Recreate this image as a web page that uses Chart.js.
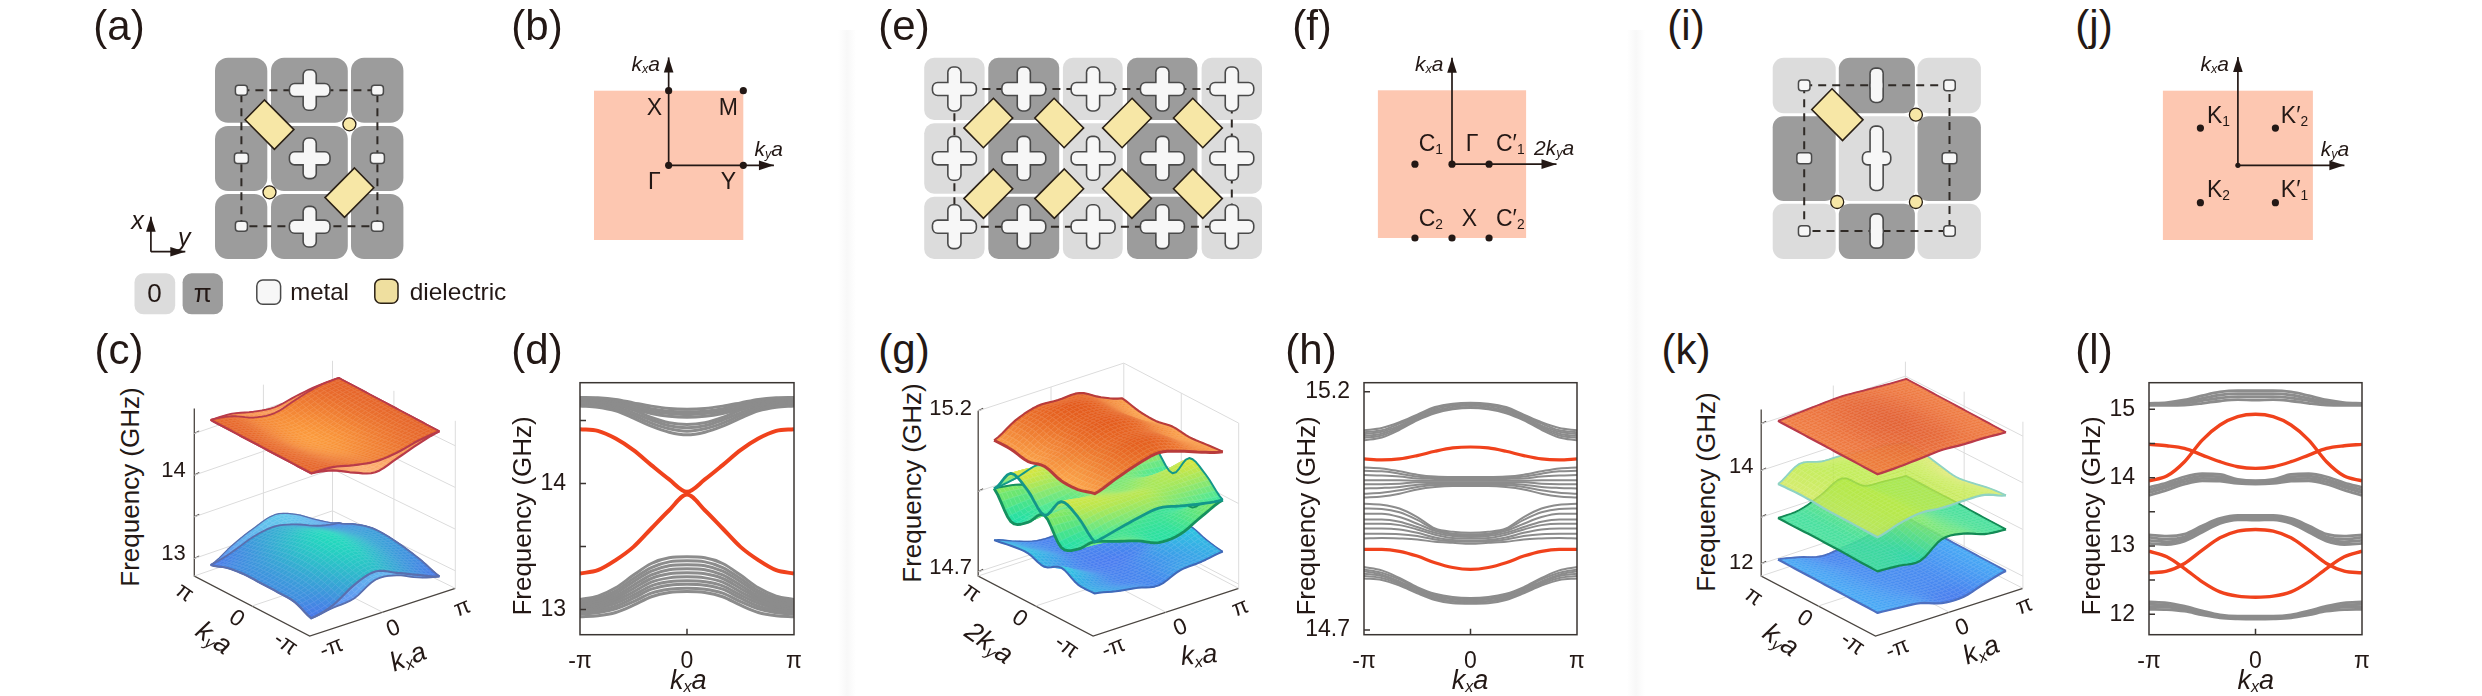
<!DOCTYPE html>
<html>
<head>
<meta charset="utf-8">
<script src="https://cdn.jsdelivr.net/npm/chart.js@4"></script>
<style>
html, body { margin: 0; background: #fff; }
#fig { position: relative; width: 2482px; height: 696px; overflow: hidden; font-family: "Liberation Sans", Arial, sans-serif; }
#fig canvas { position: absolute; }
.t { position: absolute; white-space: nowrap; color: #231815; line-height: 1; }
.t sub { font-size: .6em; vertical-align: -.22em; line-height: 0; }
.shade { position: absolute; top: 30px; bottom: 0; width: 18px; background: linear-gradient(90deg, #fff, #f8f8f8, #fff); }
</style>
</head>
<body>
<div id="fig">
<div class="shade" style="left:838px"></div>
<div class="shade" style="left:1627px"></div>
</div>
<script>
////////////
//// Data: band diagrams. Each row runs from k = pi to k = 0, the other half is its mirror image

let kSamples = [-1, -5/6, -4/6, -3/6, -2/6, -1/6, 0, 1/6, 2/6, 3/6, 4/6, 5/6, 1];
let kTickLabels = ['-π', '0', 'π'];

let dGray = [
	[14.683, 14.680, 14.667, 14.640, 14.614, 14.595, 14.590],
	[14.675, 14.669, 14.656, 14.627, 14.593, 14.574, 14.569],
	[14.667, 14.661, 14.648, 14.608, 14.574, 14.556, 14.548],
	[14.659, 14.651, 14.635, 14.590, 14.556, 14.534, 14.526],
	[14.651, 14.643, 14.622, 14.582, 14.524, 14.482, 14.468],
	[14.640, 14.632, 14.608, 14.561, 14.503, 14.458, 14.442],
	[14.630, 14.619, 14.593, 14.540, 14.479, 14.434, 14.415],
	[14.616, 14.606, 14.577, 14.519, 14.455, 14.407, 14.386],
	[13.079, 13.106, 13.172, 13.273, 13.365, 13.410, 13.418],
	[13.061, 13.087, 13.148, 13.246, 13.333, 13.378, 13.386],
	[13.048, 13.069, 13.127, 13.220, 13.304, 13.347, 13.355],
	[13.034, 13.053, 13.106, 13.193, 13.275, 13.315, 13.323],
	[13.021, 13.040, 13.087, 13.167, 13.246, 13.283, 13.291],
	[13.008, 13.024, 13.069, 13.140, 13.217, 13.251, 13.259],
	[12.995, 13.008, 13.048, 13.114, 13.188, 13.220, 13.228],
	[12.979, 12.990, 13.026, 13.090, 13.161, 13.193, 13.201],
	[12.963, 12.974, 13.005, 13.063, 13.130, 13.161, 13.169],
	[12.942, 12.950, 12.976, 13.034, 13.101, 13.135, 13.143]
];
let dRed = [
	[14.431, 14.418, 14.357, 14.265, 14.146, 14.032, 13.934],
	[13.286, 13.312, 13.392, 13.497, 13.643, 13.788, 13.913]
];
let dTicks = [13, 13.5, 14, 14.5];
let dLabels = {13: '13', 14: '14'};

let hGray = [
	[15.119, 15.124, 15.136, 15.152, 15.168, 15.175, 15.177],
	[15.115, 15.119, 15.133, 15.150, 15.166, 15.173, 15.175],
	[15.111, 15.116, 15.129, 15.147, 15.163, 15.171, 15.173],
	[15.107, 15.112, 15.126, 15.145, 15.160, 15.168, 15.171],
	[15.103, 15.108, 15.123, 15.142, 15.157, 15.165, 15.168],
	[15.098, 15.104, 15.120, 15.140, 15.155, 15.163, 15.166],
	[15.041, 15.039, 15.033, 15.026, 15.022, 15.021, 15.021],
	[15.034, 15.033, 15.028, 15.022, 15.019, 15.019, 15.019],
	[15.025, 15.024, 15.022, 15.018, 15.017, 15.016, 15.016],
	[15.014, 15.014, 15.014, 15.013, 15.013, 15.013, 15.013],
	[15.006, 15.006, 15.007, 15.010, 15.010, 15.010, 15.010],
	[14.997, 14.998, 15.000, 15.005, 15.007, 15.007, 15.007],
	[14.986, 14.988, 14.993, 15.000, 15.004, 15.005, 15.005],
	[14.978, 14.980, 14.986, 14.995, 15.000, 15.002, 15.002],
	[14.965, 14.963, 14.955, 14.937, 14.913, 14.906, 14.904],
	[14.955, 14.954, 14.947, 14.931, 14.911, 14.902, 14.901],
	[14.944, 14.944, 14.937, 14.923, 14.908, 14.900, 14.898],
	[14.932, 14.932, 14.927, 14.916, 14.904, 14.897, 14.895],
	[14.923, 14.923, 14.920, 14.911, 14.900, 14.893, 14.892],
	[14.913, 14.913, 14.911, 14.904, 14.894, 14.889, 14.888],
	[14.902, 14.902, 14.901, 14.897, 14.890, 14.886, 14.885],
	[14.892, 14.893, 14.892, 14.890, 14.885, 14.883, 14.881],
	[14.832, 14.825, 14.809, 14.790, 14.776, 14.769, 14.767],
	[14.827, 14.820, 14.806, 14.787, 14.773, 14.766, 14.765],
	[14.823, 14.816, 14.802, 14.785, 14.771, 14.764, 14.762],
	[14.818, 14.813, 14.799, 14.782, 14.768, 14.761, 14.760],
	[14.813, 14.809, 14.796, 14.780, 14.766, 14.759, 14.757],
	[14.808, 14.805, 14.793, 14.777, 14.763, 14.756, 14.755]
];
let hRed = [
	[15.059, 15.057, 15.059, 15.066, 15.075, 15.082, 15.084],
	[14.869, 14.869, 14.865, 14.855, 14.841, 14.831, 14.827]
];
let hTicks = [14.7, 15.2];
let hLabels = {14.7: '14.7', 15.2: '15.2'};

let lGray = [
	[15.088, 15.098, 15.137, 15.200, 15.254, 15.273, 15.273],
	[15.078, 15.083, 15.112, 15.161, 15.210, 15.230, 15.230],
	[15.068, 15.068, 15.088, 15.127, 15.166, 15.186, 15.186],
	[15.059, 15.059, 15.063, 15.088, 15.122, 15.142, 15.137],
	[13.857, 13.925, 14.013, 14.057, 14.047, 13.974, 13.954],
	[13.818, 13.891, 13.974, 14.023, 14.013, 13.954, 13.940],
	[13.779, 13.857, 13.940, 13.989, 13.979, 13.935, 13.920],
	[13.739, 13.818, 13.905, 13.954, 13.949, 13.915, 13.905],
	[13.163, 13.143, 13.173, 13.295, 13.402, 13.446, 13.446],
	[13.124, 13.099, 13.133, 13.265, 13.378, 13.427, 13.427],
	[13.080, 13.060, 13.099, 13.231, 13.353, 13.402, 13.402],
	[13.036, 13.021, 13.070, 13.202, 13.329, 13.383, 13.378],
	[12.181, 12.166, 12.117, 12.049, 11.990, 11.971, 11.971],
	[12.146, 12.132, 12.093, 12.029, 11.975, 11.956, 11.956],
	[12.107, 12.103, 12.068, 12.010, 11.961, 11.946, 11.941],
	[12.073, 12.068, 12.044, 11.990, 11.946, 11.931, 11.927]
];
let lRed = [
	[13.954, 14.023, 14.233, 14.550, 14.770, 14.892, 14.927],
	[14.487, 14.467, 14.428, 14.330, 14.233, 14.159, 14.135],
	[12.606, 12.630, 12.743, 12.938, 13.119, 13.216, 13.241],
	[12.923, 12.840, 12.669, 12.474, 12.327, 12.264, 12.249]
];
let lTicks = [12, 12.5, 13, 13.5, 14, 14.5, 15];
let lLabels = {12: '12', 13: '13', 14: '14', 15: '15'};

////////////
//// Data: surfaces in GHz. Rows go from ky = -pi to pi, columns from kx = -pi to pi

let cUpperBack = [
	[14.67, 14.62, 14.51, 14.43, 14.51, 14.60, 14.67],
	[14.67, 14.60, 14.50, 14.42, 14.50, 14.60, 14.67],
	[14.67, 14.60, 14.49, 14.41, 14.49, 14.60, 14.67],
	[14.67, 14.60, 14.48, 14.40, 14.48, 14.60, 14.67],
	[14.67, 14.60, 14.50, 14.43, 14.50, 14.60, 14.67],
	[14.67, 14.64, 14.55, 14.50, 14.55, 14.64, 14.67],
	[14.67, 14.66, 14.60, 14.57, 14.62, 14.66, 14.67]
];
let cUpper = [
	[14.67, 14.66, 14.60, 14.56, 14.58, 14.64, 14.67],
	[14.67, 14.63, 14.56, 14.52, 14.55, 14.62, 14.67],
	[14.67, 14.61, 14.52, 14.47, 14.52, 14.60, 14.67],
	[14.67, 14.60, 14.49, 14.44, 14.49, 14.60, 14.67],
	[14.67, 14.60, 14.49, 14.43, 14.49, 14.61, 14.67],
	[14.67, 14.62, 14.51, 14.46, 14.52, 14.63, 14.67],
	[14.67, 14.63, 14.53, 14.50, 14.58, 14.65, 14.67]
];
let cLowerBack = [
	[12.93, 12.97, 13.00, 13.14, 13.11, 13.00, 12.93],
	[13.02, 13.02, 13.06, 13.18, 13.12, 13.05, 13.00],
	[13.03, 13.05, 13.10, 13.20, 13.10, 13.06, 13.05],
	[13.03, 13.05, 13.10, 13.20, 13.10, 13.07, 13.08],
	[13.03, 13.06, 13.12, 13.22, 13.12, 13.07, 13.08],
	[13.00, 13.08, 13.18, 13.26, 13.18, 13.06, 13.02],
	[12.93, 13.08, 13.20, 13.28, 13.20, 13.05, 12.93]
];
let cLower = [
	[12.93, 13.00, 13.16, 13.24, 13.14, 13.03, 12.93],
	[13.02, 13.08, 13.22, 13.30, 13.20, 13.08, 13.00],
	[13.03, 13.12, 13.27, 13.35, 13.25, 13.12, 13.05],
	[13.03, 13.12, 13.27, 13.36, 13.26, 13.14, 13.08],
	[13.03, 13.10, 13.22, 13.30, 13.22, 13.12, 13.08],
	[13.00, 13.05, 13.15, 13.21, 13.15, 13.06, 13.02],
	[12.93, 13.00, 13.10, 13.14, 13.08, 12.98, 12.93]
];
let gUpper = [
	[15.110, 15.135, 15.158, 15.172, 15.155, 15.130, 15.110],
	[15.095, 15.135, 15.170, 15.185, 15.170, 15.130, 15.105],
	[15.095, 15.130, 15.165, 15.178, 15.165, 15.125, 15.100],
	[15.112, 15.140, 15.175, 15.188, 15.175, 15.135, 15.105],
	[15.100, 15.135, 15.172, 15.185, 15.170, 15.125, 15.095],
	[15.110, 15.150, 15.180, 15.190, 15.172, 15.130, 15.098],
	[15.110, 15.150, 15.172, 15.170, 15.170, 15.135, 15.110]
];
let gMiddleA = [
	[14.96, 14.975, 14.99, 15.00, 14.985, 14.97, 14.96],
	[15.01, 15.02, 15.02, 15.02, 15.01, 15.01, 15.01],
	[15.03, 15.02, 15.01, 15.00, 15.01, 15.02, 15.035],
	[14.96, 14.97, 14.99, 14.99, 14.99, 14.97, 14.96],
	[15.01, 15.01, 15.00, 14.99, 15.00, 15.01, 15.01],
	[15.035, 15.03, 15.01, 15.00, 15.01, 15.02, 15.03],
	[14.96, 14.97, 14.99, 14.99, 14.99, 14.97, 14.96]
];
let gMiddleB = [
	[14.96, 14.94, 14.92, 14.893, 14.897, 14.93, 14.96],
	[14.91, 14.91, 14.91, 14.90, 14.90, 14.92, 14.93],
	[14.888, 14.90, 14.91, 14.92, 14.91, 14.90, 14.885],
	[14.96, 14.95, 14.93, 14.93, 14.93, 14.95, 14.96],
	[14.91, 14.92, 14.92, 14.93, 14.92, 14.91, 14.91],
	[14.885, 14.90, 14.92, 14.93, 14.92, 14.90, 14.89],
	[14.96, 14.95, 14.93, 14.93, 14.93, 14.95, 14.96]
];
let gLower = [
	[14.800, 14.785, 14.774, 14.760, 14.785, 14.790, 14.800],
	[14.800, 14.780, 14.760, 14.760, 14.775, 14.790, 14.810],
	[14.825, 14.790, 14.760, 14.755, 14.770, 14.800, 14.825],
	[14.800, 14.775, 14.755, 14.750, 14.755, 14.775, 14.800],
	[14.815, 14.790, 14.760, 14.755, 14.770, 14.800, 14.820],
	[14.810, 14.780, 14.760, 14.760, 14.770, 14.790, 14.810],
	[14.800, 14.775, 14.755, 14.755, 14.780, 14.795, 14.800]
];
let kSheet1 = [
	[15.09, 15.10, 15.13, 15.16, 15.13, 15.12, 15.09],
	[15.09, 15.12, 15.17, 15.20, 15.18, 15.12, 15.09],
	[15.09, 15.13, 15.19, 15.22, 15.19, 15.13, 15.09],
	[15.09, 15.13, 15.20, 15.23, 15.20, 15.13, 15.09],
	[15.09, 15.13, 15.19, 15.22, 15.19, 15.13, 15.09],
	[15.09, 15.12, 15.17, 15.20, 15.17, 15.12, 15.09],
	[15.09, 15.12, 15.15, 15.17, 15.14, 15.11, 15.09]
];
let kSheet2 = [
	[13.74, 13.88, 13.96, 13.92, 13.92, 13.90, 13.74],
	[13.74, 13.90, 13.98, 13.95, 13.94, 13.86, 13.70],
	[13.74, 13.90, 14.00, 13.96, 13.95, 13.82, 13.62],
	[13.74, 13.92, 14.02, 13.98, 13.96, 13.80, 13.56],
	[13.76, 13.96, 14.06, 14.00, 13.98, 13.84, 13.62],
	[13.76, 14.00, 14.05, 14.00, 13.98, 13.88, 13.70],
	[13.74, 14.02, 13.92, 13.90, 13.85, 13.82, 13.74]
];
let kSheet3 = [
	[13.01, 12.98, 12.94, 13.25, 13.22, 13.06, 13.01],
	[13.01, 13.00, 13.00, 13.30, 13.20, 13.06, 13.01],
	[13.02, 13.00, 13.10, 13.38, 13.20, 13.05, 13.01],
	[13.02, 13.02, 13.20, 13.42, 13.20, 13.04, 13.02],
	[13.02, 13.02, 13.22, 13.42, 13.20, 13.05, 13.01],
	[13.01, 13.02, 13.25, 13.42, 13.15, 13.05, 13.01],
	[13.01, 13.03, 13.20, 13.41, 13.10, 13.05, 13.01]
];
let kSheet4 = [
	[12.12, 12.08, 12.03, 11.88, 11.86, 12.00, 12.12],
	[12.12, 12.07, 12.00, 11.92, 11.92, 12.02, 12.12],
	[12.12, 12.06, 11.98, 11.94, 11.94, 12.03, 12.12],
	[12.12, 12.05, 11.97, 11.95, 11.95, 12.03, 12.12],
	[12.12, 12.05, 11.96, 11.94, 11.95, 12.04, 12.12],
	[12.12, 12.03, 11.93, 11.92, 11.96, 12.05, 12.12],
	[12.12, 12.02, 11.89, 11.92, 11.98, 12.06, 12.12]
];

////////////
//// Data: Brillouin zone points

let bPoints = [{x: 0, y: 0}, {x: 0, y: 1}, {x: 1, y: 1}, {x: 1, y: 0}];
let fPoints = [{x: -0.5, y: 0}, {x: 0, y: 0}, {x: 0.5, y: 0}, {x: -0.5, y: -1}, {x: 0, y: -1}, {x: 0.5, y: -1}];
let jPoints = [{x: -0.5, y: 0.5}, {x: 0.5, y: 0.5}, {x: -0.5, y: -0.5}, {x: 0.5, y: -0.5}];

////////////
//// Variables declaration

let fig = document.getElementById('fig');
let INK = '#231815';
let FONT = '"Liberation Sans", Arial, sans-serif';
let DARK = '#9c9c9c', LIGHT = '#dcdcdc', METAL = '#f7f7f7', EDGE = '#4a4a4a', DIEL = '#f7e7a6';
let GRAY_LINE = '#8c8c8c', RED_LINE = '#f0421c', PINK = '#fdc7b1';

////////////
//// Function Definitions

function mirror(half) {
	return half.concat(half.slice(0, -1).reverse());
}

function addChart(rect, config) {
	let cv = document.createElement('canvas');
	cv.width = rect.w;
	cv.height = rect.h;
	cv.style.left = rect.x + 'px';
	cv.style.top = rect.y + 'px';
	cv.style.width = rect.w + 'px';
	cv.style.height = rect.h + 'px';
	fig.appendChild(cv);
	config.options.responsive = false;
	config.options.animation = false;
	config.options.plugins = Object.assign({legend: {display: false}, tooltip: {enabled: false}}, config.options.plugins);
	return new Chart(cv.getContext('2d'), config);
}

function label(html, x, y, size, rot) {
	let el = document.createElement('div');
	el.className = 't';
	el.innerHTML = html;
	el.style.left = x + 'px';
	el.style.top = y + 'px';
	el.style.fontSize = size + 'px';
	el.style.transform = 'translate(-50%,-50%) rotate(' + (rot || 0) + 'deg)';
	fig.appendChild(el);
}

// frame and inward tick marks of the band plots
let framePlugin = {
	id: 'frame',
	afterDraw(chart) {
		let ctx = chart.ctx, a = chart.chartArea, sy = chart.scales.y, sx = chart.scales.x;
		ctx.save();
		ctx.strokeStyle = '#3a3532';
		ctx.lineWidth = 1.5;
		ctx.strokeRect(a.left, a.top, a.right - a.left, a.bottom - a.top);
		ctx.beginPath();
		sy.ticks.forEach(t => {
			let p = sy.getPixelForValue(t.value);
			ctx.moveTo(a.left, p);
			ctx.lineTo(a.left + 6, p);
		});
		let p0 = sx.getPixelForValue(0);
		ctx.moveTo(p0, a.bottom);
		ctx.lineTo(p0, a.bottom - 6);
		ctx.stroke();
		ctx.restore();
	}
};

function bandChart(rect, area, range, ticks, labels, gray, red, grayWidth, redWidth) {
	let datasets = [];
	gray.concat(red).forEach((half, i) => {
		let isRed = i >= gray.length;
		let vals = mirror(half);
		datasets.push({
			data: kSamples.map((k, j) => ({x: k, y: vals[j]})),
			borderColor: isRed ? RED_LINE : GRAY_LINE,
			borderWidth: isRed ? redWidth : grayWidth,
			cubicInterpolationMode: 'monotone',
			pointRadius: 0,
			showLine: true,
			fill: false
		});
	});
	return addChart(rect, {
		type: 'scatter',
		data: {datasets: datasets},
		options: {
			layout: {padding: {top: area.top - rect.y, right: rect.x + rect.w - area.right, left: 0, bottom: 0}},
			scales: {
				x: {
					type: 'linear', min: -1, max: 1,
					grid: {display: false}, border: {display: false},
					afterBuildTicks: s => { s.ticks = [{value: -1}, {value: 0}, {value: 1}]; },
					afterFit: s => { s.height = rect.y + rect.h - area.bottom; },
					ticks: {
						autoSkip: false, maxRotation: 0, padding: 5, color: INK,
						font: {family: FONT, size: 23},
						callback: v => kTickLabels[v + 1]
					}
				},
				y: {
					type: 'linear', min: range[0], max: range[1],
					grid: {display: false}, border: {display: false},
					afterBuildTicks: s => { s.ticks = ticks.map(v => ({value: v})); },
					afterFit: s => { s.width = area.left - rect.x; },
					title: {
						display: true, text: 'Frequency (GHz)\u00a0\u00a0', color: INK,
						font: {family: FONT, size: 26}, padding: {top: 8, bottom: 0}
					},
					ticks: {
						autoSkip: false, padding: 6, color: INK,
						font: {family: FONT, size: 23},
						callback: v => labels[v] || ''
					}
				}
			}
		},
		plugins: [framePlugin]
	});
}

// chart whose hidden scales run in page pixels, used for the sketches and the 3D views
function pixelChart(rect, datasets, plugin) {
	return addChart(rect, {
		type: 'scatter',
		data: {datasets: datasets},
		options: {
			layout: {padding: 0},
			scales: {
				x: {type: 'linear', display: false, min: rect.x, max: rect.x + rect.w},
				y: {type: 'linear', display: false, min: rect.y, max: rect.y + rect.h, reverse: true}
			}
		},
		plugins: [plugin]
	});
}

function roundBox(ctx, sx, sy, x0, y0, x1, y1, r) {
	let px = sx.getPixelForValue(x0), py = sy.getPixelForValue(y0);
	ctx.beginPath();
	ctx.roundRect(px, py, sx.getPixelForValue(x1) - px, sy.getPixelForValue(y1) - py, r);
}

function drawCross(ctx, sx, sy, cx, cy, w, h, arm) {
	let boxes = [
		[cx - arm / 2, cy - h / 2, cx + arm / 2, cy + h / 2],
		[cx - w / 2, cy - arm / 2, cx + w / 2, cy + arm / 2]
	];
	ctx.strokeStyle = EDGE;
	ctx.lineWidth = 3.2;
	boxes.forEach(b => { roundBox(ctx, sx, sy, b[0], b[1], b[2], b[3], arm / 2.6); ctx.stroke(); });
	ctx.fillStyle = METAL;
	boxes.forEach(b => { roundBox(ctx, sx, sy, b[0], b[1], b[2], b[3], arm / 2.6); ctx.fill(); });
}

let RHOMB = [[5.1, -24.7], [24.4, -5], [-4.9, 24.7], [-24.4, 4.9]];

function latticePlugin(spec) {
	return {
		id: 'lattice',
		beforeDatasetsDraw(chart) {
			let ctx = chart.ctx, sx = chart.scales.x, sy = chart.scales.y;
			spec.rows.forEach((row, r) => spec.cols.forEach((col, c) => {
				ctx.fillStyle = spec.shades[r][c];
				roundBox(ctx, sx, sy, col[0], row[0], col[1], row[1], spec.radius);
				ctx.fill();
			}));
		},
		afterDatasetsDraw(chart) {
			let ctx = chart.ctx, sx = chart.scales.x, sy = chart.scales.y;
			ctx.save();
			spec.crosses.forEach(p => drawCross(ctx, sx, sy, p[0], p[1], p[2], p[3], 11.5));
			spec.pads.forEach(p => {
				roundBox(ctx, sx, sy, p[0] - p[2] / 2, p[1] - p[3] / 2, p[0] + p[2] / 2, p[1] + p[3] / 2, 3);
				ctx.fillStyle = METAL;
				ctx.fill();
				ctx.strokeStyle = EDGE;
				ctx.lineWidth = 1.5;
				ctx.stroke();
			});
			spec.rhombs.forEach(d => {
				ctx.beginPath();
				RHOMB.forEach(v => {
					let sc = d[3] || 1;
					ctx.lineTo(sx.getPixelForValue(d[0] + d[2] * v[0] * sc), sy.getPixelForValue(d[1] + v[1] * sc));
				});
				ctx.closePath();
				ctx.fillStyle = DIEL;
				ctx.fill();
				ctx.strokeStyle = '#2a2015';
				ctx.lineWidth = 1.6;
				ctx.stroke();
			});
			spec.dots.forEach(p => {
				ctx.beginPath();
				ctx.arc(sx.getPixelForValue(p[0]), sy.getPixelForValue(p[1]), 6.5, 0, 2 * Math.PI);
				ctx.fillStyle = DIEL;
				ctx.fill();
				ctx.strokeStyle = '#2a2015';
				ctx.lineWidth = 1.3;
				ctx.stroke();
			});
			(spec.extra || []).forEach(f => f(ctx, sx, sy));
			ctx.restore();
		}
	};
}

function frameDataset(x0, y0, x1, y1) {
	return {
		data: [{x: x0, y: y0}, {x: x1, y: y0}, {x: x1, y: y1}, {x: x0, y: y1}, {x: x0, y: y0}],
		showLine: true, pointRadius: 0, borderColor: '#2f2a26', borderWidth: 2, borderDash: [8, 6], fill: false
	};
}

function arrowHead(ctx, x0, y0, x1, y1, len, wid) {
	let a = Math.atan2(y1 - y0, x1 - x0);
	ctx.beginPath();
	ctx.moveTo(x1, y1);
	ctx.lineTo(x1 - len * Math.cos(a) + wid * Math.sin(a), y1 - len * Math.sin(a) - wid * Math.cos(a));
	ctx.lineTo(x1 - len * Math.cos(a) - wid * Math.sin(a), y1 - len * Math.sin(a) + wid * Math.cos(a));
	ctx.closePath();
	ctx.fill();
}

function arrow(ctx, x0, y0, x1, y1) {
	ctx.strokeStyle = INK;
	ctx.fillStyle = INK;
	ctx.lineWidth = 1.7;
	ctx.beginPath();
	ctx.moveTo(x0, y0);
	ctx.lineTo(x1, y1);
	ctx.stroke();
	arrowHead(ctx, x0, y0, x1, y1, 15, 4.8);
}

// Brillouin zone plots: the chart area is the pink square
function zoneChart(rect, area, points, tipUp, tipRight, centerDot) {
	let sets = [{data: points, pointRadius: 3.6, pointBackgroundColor: INK, pointBorderWidth: 0, clip: false}];
	if (centerDot) sets.push({data: [{x: 0, y: 0}], pointRadius: 2.6, pointBackgroundColor: INK, pointBorderWidth: 0, clip: false});
	return addChart(rect, {
		type: 'scatter',
		data: {datasets: sets},
		options: {
			layout: {padding: {
				left: area.left - rect.x, top: area.top - rect.y,
				right: rect.x + rect.w - area.right, bottom: rect.y + rect.h - area.bottom
			}},
			scales: {
				x: {type: 'linear', display: false, min: -1, max: 1},
				y: {type: 'linear', display: false, min: -1, max: 1}
			}
		},
		plugins: [{
			id: 'zone',
			beforeDatasetsDraw(chart) {
				let ctx = chart.ctx, a = chart.chartArea, sx = chart.scales.x, sy = chart.scales.y;
				ctx.save();
				ctx.fillStyle = PINK;
				ctx.fillRect(a.left, a.top, a.right - a.left, a.bottom - a.top);
				let ox = sx.getPixelForValue(0), oy = sy.getPixelForValue(0);
				arrow(ctx, ox, oy, ox, sy.getPixelForValue(tipUp));
				arrow(ctx, ox, oy, sx.getPixelForValue(tipRight), oy);
				ctx.restore();
			}
		}]
	});
}

function catmull(p0, p1, p2, p3, t) {
	return 0.5 * (2 * p1 + (p2 - p0) * t + (2 * p0 - 5 * p1 + 4 * p2 - p3) * t * t + (3 * p1 - p0 - 3 * p2 + p3) * t * t * t);
}

function smoothHeight(grid, a, b) {
	let n = grid.length - 1;
	let i = Math.min(Math.floor(a), n - 1), j = Math.min(Math.floor(b), n - 1);
	let cl = q => Math.max(0, Math.min(n, q));
	let rows = [-1, 0, 1, 2].map(d => {
		let r = grid[cl(j + d)];
		return catmull(r[cl(i - 1)], r[cl(i)], r[cl(i + 1)], r[cl(i + 2)], a - i);
	});
	return catmull(rows[0], rows[1], rows[2], rows[3], b - j);
}

function hexRgb(h) {
	return [1, 3, 5].map(i => parseInt(h.substr(i, 2), 16));
}

function mix(c0, c1, t) {
	let a = hexRgb(c0), b = hexRgb(c1);
	return 'rgb(' + a.map((v, i) => Math.round(v + (b[i] - v) * t)).join(',') + ')';
}

// draws one height grid, through the hidden pixel scales, from back corner to front corner
function drawSheet(chart, view, sheet) {
	let ctx = chart.ctx, sx = chart.scales.x, sy = chart.scales.y;
	let N = 30, n = sheet.grid.length - 1;
	let flat = sheet.grid.flat(), fMin = Math.min(...flat), fMax = Math.max(...flat);
	let proj = (i, j) => {
		let u = i / N * 2 - 1, v = j / N * 2 - 1;
		let f = smoothHeight(sheet.grid, i / N * n, j / N * n);
		return {
			x: sx.getPixelForValue(view.cx + view.ex[0] * u + view.ey[0] * v),
			y: sy.getPixelForValue(view.cy + view.ex[1] * u + view.ey[1] * v - view.k * (f - view.f0)),
			f: f
		};
	};
	let pts = [];
	for (let j = 0; j <= N; j++) {
		pts.push([]);
		for (let i = 0; i <= N; i++) pts[j].push(proj(i, j));
	}
	let off = document.createElement('canvas');
	off.width = chart.width;
	off.height = chart.height;
	let o = off.getContext('2d');
	for (let j = N - 1; j >= 0; j--) {
		for (let i = N - 1; i >= 0; i--) {
			let q = [pts[j][i], pts[j][i + 1], pts[j + 1][i + 1], pts[j + 1][i]];
			let f = (q[0].f + q[1].f + q[2].f + q[3].f) / 4;
			let col = mix(sheet.colors[0], sheet.colors[1], (f - fMin) / (fMax - fMin));
			o.beginPath();
			q.forEach(p => o.lineTo(p.x, p.y));
			o.closePath();
			o.fillStyle = col;
			o.strokeStyle = col;
			o.lineWidth = 0.8;
			o.fill();
			o.stroke();
			o.strokeStyle = 'rgba(255,255,255,0.16)';
			o.lineWidth = 0.6;
			o.stroke();
		}
	}
	ctx.save();
	ctx.globalAlpha = sheet.alpha || 1;
	ctx.drawImage(off, 0, 0);
	ctx.globalAlpha = 1;
	ctx.strokeStyle = sheet.edge;
	ctx.lineJoin = 'round';
	// far edges thin, near edges heavier
	ctx.lineWidth = sheet.width ? sheet.width * 0.7 : 1.8;
	ctx.beginPath();
	for (let i = 0; i <= N; i++) ctx.lineTo(pts[N][i].x, pts[N][i].y);
	for (let j = N; j >= 0; j--) ctx.lineTo(pts[j][N].x, pts[j][N].y);
	ctx.stroke();
	ctx.lineWidth = sheet.width || 2.2;
	ctx.beginPath();
	for (let j = N; j >= 0; j--) ctx.lineTo(pts[j][0].x, pts[j][0].y);
	for (let i = 0; i <= N; i++) ctx.lineTo(pts[0][i].x, pts[0][i].y);
	ctx.stroke();
	ctx.restore();
}

function boxDatasets(box) {
	let at = (c, f) => ({x: c[0], y: c[1] - box.k * (f - box.floor)});
	let mid = (a, b) => [(a[0] + b[0]) / 2, (a[1] + b[1]) / 2];
	let line = (pts, dark) => ({
		data: pts, showLine: true, pointRadius: 0, fill: false,
		borderColor: dark ? '#4a4540' : '#dcdcdc', borderWidth: dark ? 1.3 : 1
	});
	let sets = [];
	box.ticks.forEach(f => {
		sets.push(line([at(box.L, f), at(box.B, f), at(box.R, f)], false));
	});
	[box.B, mid(box.L, box.B), box.R, mid(box.B, box.R)].forEach(c => {
		sets.push(line([at(c, box.floor), at(c, box.top)], false));
	});
	sets.push(line([at(box.L, box.floor), at(box.B, box.floor), at(box.R, box.floor)], false));
	sets.push(line([at(mid(box.L, box.F), box.floor), at(mid(box.B, box.R), box.floor)], false));
	sets.push(line([at(mid(box.F, box.R), box.floor), at(mid(box.L, box.B), box.floor)], false));
	sets.push(line([at(box.L, box.top), at(box.L, box.floor), at(box.F, box.floor), at(box.R, box.floor)], true));
	box.ticks.forEach(f => {
		let p = at(box.L, f);
		sets.push(line([p, {x: p.x + 5, y: p.y - 2.5}], true));
	});
	return sets;
}

function surfaceChart(rect, box, view, sheets) {
	return pixelChart(rect, boxDatasets(box), {
		id: 'surface',
		afterDatasetsDraw(chart) {
			sheets.forEach(s => drawSheet(chart, view, s));
		}
	});
}

////////////
//// Script

// (a)
let A_COLS = [[215, 267.3], [271, 347.8], [351, 403.4]];
let A_ROWS = [[57.7, 122.7], [126, 191], [194, 259]];
pixelChart({x: 100, y: 40, w: 420, h: 290}, [frameDataset(241.4, 90.3, 377.4, 226.3)], latticePlugin({
	cols: A_COLS, rows: A_ROWS, radius: 13,
	shades: [[DARK, DARK, DARK], [DARK, DARK, DARK], [DARK, DARK, DARK]],
	crosses: [[309.7, 90, 39, 39], [309.7, 158.3, 39, 39], [309.7, 226.7, 39, 39]],
	pads: [[241.4, 90.3, 12, 10], [377.4, 90.3, 12, 10], [241.4, 158.3, 14, 10.5], [377.4, 158.3, 14, 10.5], [241.4, 226.3, 12, 10], [377.4, 226.3, 12, 10]],
	rhombs: [[269.5, 124.7, -1], [349.4, 192.7, 1]],
	dots: [[349.4, 124.3], [269.5, 192.3]],
	extra: [(ctx, sx, sy) => {
		arrow(ctx, sx.getPixelForValue(150.9), sy.getPixelForValue(251.7), sx.getPixelForValue(150.9), sy.getPixelForValue(216.7));
		arrow(ctx, sx.getPixelForValue(150.9), sy.getPixelForValue(251.7), sx.getPixelForValue(185.3), sy.getPixelForValue(251.7));
		ctx.fillStyle = LIGHT;
		roundBox(ctx, sx, sy, 134.5, 273.3, 175.2, 314.3, 9);
		ctx.fill();
		ctx.fillStyle = DARK;
		roundBox(ctx, sx, sy, 182.6, 273.3, 222.9, 314.3, 9);
		ctx.fill();
		ctx.lineWidth = 1.5;
		ctx.strokeStyle = EDGE;
		ctx.fillStyle = METAL;
		roundBox(ctx, sx, sy, 256.8, 280, 280.6, 304.3, 6);
		ctx.fill();
		ctx.stroke();
		ctx.fillStyle = '#efdf9f';
		ctx.strokeStyle = '#2a2015';
		roundBox(ctx, sx, sy, 374.8, 279.3, 398, 303.3, 6);
		ctx.fill();
		ctx.stroke();
	}]
}));

// (e)
let E_COLS = [[924.2, 984.6], [988.3, 1059.2], [1062.9, 1122.7], [1127, 1197.4], [1201.6, 1262]];
let E_ROWS = [[57.7, 120], [123.3, 193.7], [196.7, 259]];
let E_SHADE = [LIGHT, DARK, LIGHT, DARK, LIGHT];
let E_CROSS = [];
[954.4, 1023.8, 1093.1, 1162.4, 1231.8].forEach(x => [89, 158.3, 226.7].forEach(y => E_CROSS.push([x, y, 42.3, 42.3])));
pixelChart({x: 900, y: 40, w: 400, h: 240}, [frameDataset(954.4, 89, 1231.8, 226.7)], latticePlugin({
	cols: E_COLS, rows: E_ROWS, radius: 10,
	shades: [E_SHADE, E_SHADE, E_SHADE],
	crosses: E_CROSS, pads: [], dots: [],
	rhombs: [[988.3, 123, 1], [1059.2, 123, -1], [1127, 123, 1], [1197.9, 123, -1],
		[988.3, 193.7, 1], [1059.2, 193.7, 1], [1127, 193.7, -1], [1197.9, 193.7, -1]]
}));

// (i)
pixelChart({x: 1750, y: 40, w: 260, h: 240}, [frameDataset(1804.2, 85.3, 1949.5, 231)], latticePlugin({
	cols: [[1772.7, 1835.7], [1838.8, 1914.9], [1917.5, 1980.9]],
	rows: [[57.7, 113.3], [116.3, 201], [203.7, 259]], radius: 11,
	shades: [[LIGHT, DARK, LIGHT], [DARK, LIGHT, DARK], [LIGHT, DARK, LIGHT]],
	crosses: [[1876.6, 85.3, 11.5, 32.7], [1876.6, 231, 11.5, 32.7], [1876.6, 158.3, 26.7, 62.7]],
	pads: [[1804.2, 85.3, 11.5, 10.7], [1949.5, 85.3, 11.5, 10.7], [1804.2, 158.3, 14.7, 11], [1949.5, 158.3, 14.7, 11], [1804.2, 231, 11.5, 10.7], [1949.5, 231, 11.5, 10.7]],
	rhombs: [[1837.4, 114.7, -1, 1.05]],
	dots: [[1915.9, 114.7], [1837.2, 202], [1915.9, 202]]
}));

// (b) (f) (j)
zoneChart({x: 560, y: 40, w: 240, h: 220}, {left: 594, right: 743.3, top: 90.7, bottom: 240}, bPoints, 1.446, 1.41, false);
zoneChart({x: 1350, y: 40, w: 230, h: 220}, {left: 1377.9, right: 1526.1, top: 90.3, bottom: 238}, fPoints, 1.44, 1.41, false);
zoneChart({x: 2130, y: 40, w: 240, h: 220}, {left: 2162.9, right: 2312.9, top: 90.7, bottom: 240}, jPoints, 1.45, 1.42, true);

// (c) (g) (k)
surfaceChart({x: 150, y: 355, w: 330, h: 300},
	{L: [194.3, 576], F: [309.7, 636], R: [455.3, 588.3], B: [332.5, 528.3], k: 83.33, floor: 12.79, top: 14.8, ticks: [13, 13.5, 14, 14.5]},
	{cx: 325.05, cy: 425.6, ex: [64.05, -21], ey: [-50.3, -26.7], k: 83.33, f0: 14.67},
	[
		{grid: cLowerBack, colors: ['#5f8ff2', '#62c8ec'], edge: '#5a6fae', width: 1.8},
		{grid: cLower, colors: ['#4a78ea', '#22d8bd'], edge: '#5a6fae'},
		{grid: cUpperBack, colors: ['#fdb274', '#f58a45'], edge: '#b83b4a'},
		{grid: cUpper, colors: ['#fb9a3c', '#e5642a'], edge: '#b83b4a'}
	]);
surfaceChart({x: 960, y: 355, w: 300, h: 300},
	{L: [978.2, 576], F: [1093.1, 636], R: [1238.7, 588.3], B: [1123.8, 528.3], k: 322, floor: 14.687, top: 15.2, ticks: [14.7, 14.95, 15.2]},
	{cx: 1108.45, cy: 446.3, ex: [64.05, -21], ey: [-50.3, -26.7], k: 322, f0: 15.109},
	[
		{grid: gLower, colors: ['#4a7df0', '#2cc8e0'], edge: '#4068b8', width: 2},
		{grid: gMiddleB, colors: ['#20e0a8', '#8ce85a'], edge: '#15915f', width: 2.8},
		{grid: gMiddleA, colors: ['#3de8a0', '#d8e63c'], edge: '#13978a', width: 2.8},
		{grid: gUpper, colors: ['#fca54b', '#e35a1c'], edge: '#b83b3b', width: 3}
	]);
surfaceChart({x: 1745, y: 355, w: 300, h: 300},
	{L: [1761.2, 576], F: [1875.5, 636], R: [2022.9, 588.3], B: [1905.4, 528.3], k: 46.67, floor: 11.74, top: 15.31, ticks: [12, 13, 14, 15]},
	{cx: 1892, cy: 426.6, ex: [64.2, -21], ey: [-49.8, -26.7], k: 46.67, f0: 15.09},
	[
		{grid: kSheet4, colors: ['#4a7fee', '#47a9f5'], edge: '#4d6fc0'},
		{grid: kSheet3, colors: ['#2fdca0', '#8be860'], edge: '#138a55', alpha: 0.92},
		{grid: kSheet2, colors: ['#dbe65f', '#b7e93a'], edge: '#8fd3c4', alpha: 0.82},
		{grid: kSheet1, colors: ['#f0773a', '#e25c2c'], edge: '#b93a4a', alpha: 0.95}
	]);

// (d) (h) (l)
bandChart({x: 500, y: 360, w: 310, h: 336}, {left: 580, right: 794, top: 382.7, bottom: 634.7}, [12.8, 14.8], dTicks, dLabels, dGray, dRed, 3, 4);
bandChart({x: 1284, y: 360, w: 310, h: 336}, {left: 1364, right: 1577, top: 382.7, bottom: 634.7}, [14.69, 15.219], hTicks, hLabels, hGray, hRed, 2, 3.2);
bandChart({x: 2069, y: 360, w: 310, h: 336}, {left: 2149, right: 2362, top: 382.7, bottom: 634.7}, [11.7, 15.39], lTicks, lLabels, lGray, lRed, 2.8, 3.4);

// text
let KXA = '<i>k<sub>x</sub>a</i>', KYA = '<i>k<sub>y</sub>a</i>';
[['(a)', 119, 26], ['(b)', 537, 26], ['(c)', 119, 350], ['(d)', 537, 350], ['(e)', 904, 26], ['(f)', 1312, 26],
 ['(g)', 904, 350], ['(h)', 1311, 350], ['(i)', 1686, 26], ['(j)', 2094, 26], ['(k)', 1686, 350], ['(l)', 2094, 350]
].forEach(p => label(p[0], p[1], p[2], 42));

label('<i>x</i>', 137.6, 220, 25);
label('<i>y</i>', 184.2, 237, 25);
label('0', 154.6, 293.3, 26);
label('π', 202.8, 293.3, 26);
label('metal', 319.5, 291.7, 24);
label('dielectric', 458, 291.7, 24.5);

label(KXA, 645.8, 63.3, 21);
label(KYA, 768.7, 148.3, 21);
label('X', 654.3, 106.7, 23);
label('M', 728.4, 106.7, 23);
label('Γ', 654.3, 180.7, 23);
label('Y', 728.4, 180.7, 23);

label(KXA, 1429.3, 63.3, 21);
label('<i>2k<sub>y</sub>a</i>', 1554.2, 147.3, 21);
label('C<sub>1</sub>', 1430.8, 143.3, 23);
label('Γ', 1472.1, 143.3, 23);
label('C′<sub>1</sub>', 1510.3, 143.3, 23);
label('C<sub>2</sub>', 1430.8, 218.3, 23);
label('X', 1469.5, 218.3, 23);
label('C′<sub>2</sub>', 1510.3, 218.3, 23);

label(KXA, 2214.8, 63.3, 21);
label(KYA, 2334.9, 148.3, 21);
label('K<sub>1</sub>', 2218.5, 115, 23);
label('K′<sub>2</sub>', 2294.5, 115, 23);
label('K<sub>2</sub>', 2218.5, 189.3, 23);
label('K′<sub>1</sub>', 2294.5, 189.3, 23);

// 3D axes text
label('Frequency (GHz)', 129.7, 486.7, 26, -90);
label('14', 173.6, 470, 22);
label('13', 173.6, 553, 22);
label('π', 185.3, 591.7, 23, 35);
label('0', 237.2, 617.7, 23, 35);
label('-π', 285.9, 642.7, 23, 35);
label(KYA, 214.4, 638.3, 27, 35);
label('-π', 330.9, 647.3, 23, -22);
label('0', 392.8, 628.3, 23, -22);
label('π', 461.6, 606.7, 23, -22);
label(KXA, 407.6, 656.7, 27, -22);

label('Frequency (GHz)', 912, 483, 26, -90);
label('15.2', 950.7, 408.3, 22);
label('14.7', 950.7, 566.7, 22);
label('π', 971.9, 591.7, 23, 35);
label('0', 1019.5, 617.7, 23, 35);
label('-π', 1067.2, 646, 23, 35);
label('<i>2k<sub>y</sub>a</i>', 988.8, 643.3, 27, 35);
label('-π', 1113.2, 646.7, 23, -22);
label('0', 1180.4, 626.7, 23, -22);
label('π', 1240.3, 606.7, 23, -22);
label(KXA, 1199, 655, 27, -5);

label('Frequency (GHz)', 1706, 492, 26, -90);
label('14', 1741.3, 466, 22);
label('12', 1741.3, 561.7, 22);
label('π', 1754.4, 596, 23, 35);
label('0', 1805.3, 618.3, 23, 35);
label('-π', 1853, 643.3, 23, 35);
label(KYA, 1780.6, 640, 27, 35);
label('-π', 1897, 648.3, 23, -22);
label('0', 1961.5, 627.3, 23, -22);
label('π', 2024.4, 605, 23, -22);
label(KXA, 1981, 650, 27, -22);

label(KXA, 688.3, 680, 27);
label(KXA, 1470, 680, 27);
label(KXA, 2255.7, 680, 27);
</script>
</body>
</html>
